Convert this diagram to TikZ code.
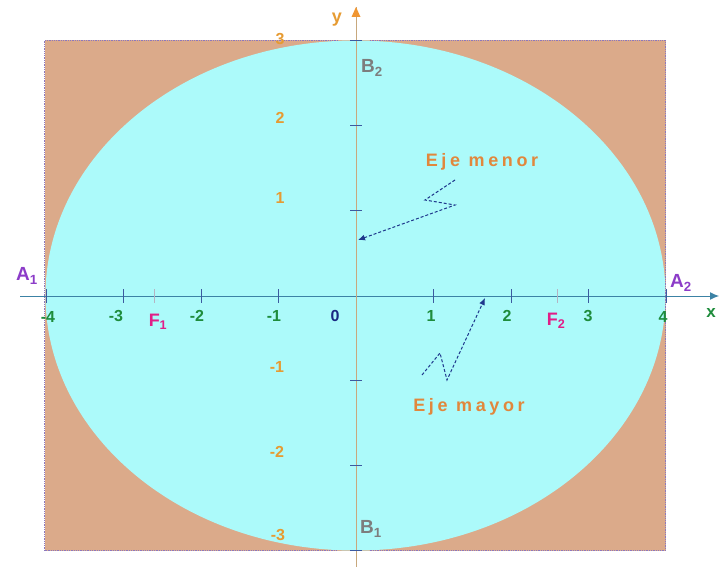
\documentclass[tikz,border=0pt]{standalone}
\usepackage{fontspec}
\setmainfont{Liberation Sans}
\usetikzlibrary{arrows.meta}
\definecolor{brownfill}{RGB}{219,170,138}
\definecolor{cyanfill}{RGB}{172,250,250}
\definecolor{borderc}{RGB}{140,120,190}
\definecolor{xaxisc}{RGB}{60,130,165}
\definecolor{yaxisc}{RGB}{200,168,125}
\definecolor{yarrowc}{RGB}{240,150,50}
\definecolor{tickc}{RGB}{60,90,160}
\definecolor{ftickc}{RGB}{180,180,195}
\definecolor{xlabc}{RGB}{30,140,60}
\definecolor{ylabc}{RGB}{230,155,50}
\definecolor{zeroc}{RGB}{25,40,130}
\definecolor{flabc}{RGB}{225,30,135}
\definecolor{alabc}{RGB}{140,60,200}
\definecolor{blabc}{RGB}{125,125,125}
\definecolor{ejec}{RGB}{225,135,60}
\definecolor{arrc}{RGB}{30,55,140}
\tikzset{
  lbl/.style={inner sep=0pt, font=\bfseries\fontsize{16}{16}\selectfont},
  xlab/.style={lbl, text=xlabc},
  ylab/.style={lbl, text=ylabc},
  pointlab/.style={inner sep=0pt, font=\bfseries\fontsize{19}{19}\selectfont},
  ejelab/.style={inner sep=0pt, text=ejec, font=\bfseries\fontsize{18}{18}\selectfont\addfontfeatures{LetterSpace=20}},
  tickmark/.style={tickc, line width=1pt},
  border/.style={borderc, line width=1.3pt, densely dotted},
  pointer/.style={arrc, line width=1pt, densely dashed, -{Latex[length=7pt,width=6pt]}},
}
\begin{document}
\begin{tikzpicture}[x=1pt,y=-1pt]
\useasboundingbox (0,0) rectangle (728,567);
% background rectangle and ellipse
\fill[brownfill] (44.5,40.5) rectangle (665.5,550.5);
\fill[cyanfill] (355.5,295.5) ellipse [x radius=310pt, y radius=255pt];
% dotted border with gaps at the y axis
\draw[border] (338,40.5) -- (44.5,40.5) -- (44.5,550.5) -- (338,550.5);
\draw[border] (370,40.5) -- (665.5,40.5) -- (665.5,550.5) -- (370,550.5);
% axes
\coordinate (xs) at (20,296);
\coordinate (xe) at (719,296);
\coordinate (ys) at (356,567);
\coordinate (ye) at (356,7);
\draw[xaxisc, line width=1pt, -{Latex[length=9pt,width=8pt]}] (xs) -- (xe);
\draw[yaxisc, line width=1pt] (ys) -- (ye);
\fill[yarrowc] (ye) -- ++(-4.5,10) -- ++(9,0) -- cycle;
% x ticks
\foreach \k in {-4,-3,-2,-1,1,2,3,4}
  \draw[tickmark] ({356+77.5*\k},289) -- ({356+77.5*\k},303);
% focus ticks
\foreach \k in {-2.6,2.6}
  \draw[ftickc, line width=1pt] ({356+77.5*\k},289) -- ({356+77.5*\k},303);
% y ticks
\foreach \k in {-3,-2,-1,1,2,3}
  \draw[tickmark] (350,{295.5-85*\k}) -- (362,{295.5-85*\k});
% x tick labels
\node[xlab] (xm4) at (48,317) {-4};
\node[xlab] (xm3) at (116,316) {-3};
\node[xlab] (xm2) at (197,316) {-2};
\node[xlab] (xm1) at (274,316) {-1};
\node[lbl, text=zeroc] (x0) at (335,316) {0};
\node[xlab] (x1) at (431,316) {1};
\node[xlab] (x2) at (507,316) {2};
\node[xlab] (x3) at (588,316) {3};
\node[xlab] (x4) at (663,317) {4};
% y tick labels
\node[ylab] (y3) at (280,39) {3};
\node[ylab] (y2) at (280,118) {2};
\node[ylab] (y1) at (280,198) {1};
\node[ylab] (ym1) at (277,367) {-1};
\node[ylab] (ym2) at (277,452) {-2};
\node[ylab] (ym3) at (278,535) {-3};
% axis names
\node[lbl, text=ylabc, font=\bfseries\fontsize{18}{18}\selectfont] (ylabel) at (337,20) {y};
\node[lbl, text=xlabc, font=\bfseries\fontsize{17}{17}\selectfont] (xlabel) at (711,313) {x};
% vertices and foci
\node[pointlab, text=alabc] (A1) at (27,276) {A\textsubscript{1}};
\node[pointlab, text=alabc] (A2) at (681,283) {A\textsubscript{2}};
\node[pointlab, text=blabc] (B2) at (372,68) {B\textsubscript{2}};
\node[pointlab, text=blabc] (B1) at (371,529) {B\textsubscript{1}};
\node[pointlab, text=flabc, font=\bfseries\fontsize{18}{18}\selectfont] (F1) at (158,322) {F\textsubscript{1}};
\node[pointlab, text=flabc, font=\bfseries\fontsize{18}{18}\selectfont] (F2) at (556,321) {F\textsubscript{2}};
% axis names with pointers
\node[ejelab] (menor) at (482,162) {Eje menor};
\node[ejelab] (mayor) at (469,407) {Eje mayor};
\coordinate (m0) at (455,180);
\coordinate (m1) at (425,200);
\coordinate (m2) at (455,205);
\coordinate (mt) at (358,240);
\draw[pointer] (m0) -- (m1) -- (m2) -- (mt);
\coordinate (a0) at (422,375);
\coordinate (a1) at (440,353);
\coordinate (a2) at (447,380);
\coordinate (at) at (485,298);
\draw[pointer] (a0) -- (a1) -- (a2) -- (at);
\end{tikzpicture}
\end{document}
